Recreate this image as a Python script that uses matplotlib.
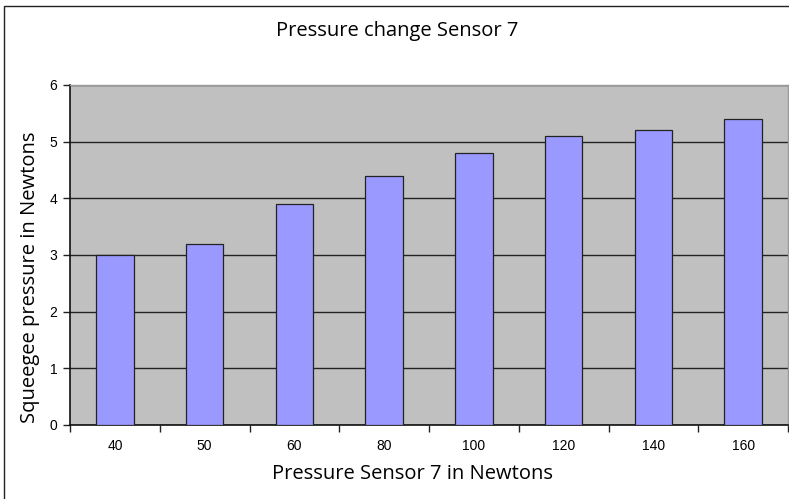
import matplotlib
matplotlib.use("Agg")
import matplotlib.pyplot as plt
from matplotlib.patches import Rectangle
import numpy as np

categories = ["40", "50", "60", "80", "100", "120", "140", "160"]
values = [3.0, 3.2, 3.9, 4.4, 4.8, 5.1, 5.2, 5.4]
y_ticks = [0, 1, 2, 3, 4, 5, 6]

W, H = 789, 499
fig = plt.figure(figsize=(W / 100, H / 100), dpi=100)
fig.patch.set_facecolor("white")

# outer chart frame (runs off the right and bottom edges)
fig.add_artist(Rectangle((4 / W, -0.05), 1.05, 1.05 - 6 / H,
                         transform=fig.transFigure, fill=False,
                         edgecolor="#222222", linewidth=1.0))

left, right, top, bottom = 70, 788, 85, 425
ax = fig.add_axes([left / W, 1 - bottom / H, (right - left) / W, (bottom - top) / H])
ax.set_facecolor("#C0C0C0")

x = np.arange(len(categories))
ax.set_axisbelow(True)
ax.yaxis.grid(True, color="#222222", linewidth=1.0)
ax.bar(x, values, width=0.42, color="#9999FF", edgecolor="#222222", linewidth=0.9, zorder=3)

ax.set_xlim(-0.5, len(categories) - 0.5)
ax.set_ylim(0, 6)
ax.set_yticks(y_ticks)
ax.set_yticklabels([str(t) for t in y_ticks], fontsize=10, family="Liberation Sans")
ax.set_xticks(x)
ax.set_xticklabels(categories, fontsize=10, family="Liberation Sans")
ax.tick_params(axis="x", length=0, pad=10)
ax.set_xticks(np.arange(len(categories) + 1) - 0.5, minor=True)
ax.tick_params(axis="x", which="minor", length=5, width=1.0, direction="out", color="#222222")
ax.tick_params(axis="y", length=5, width=1.0, direction="out", color="#222222", pad=4)

for s in ["top", "right"]:
    ax.spines[s].set_color("#999999")
    ax.spines[s].set_linewidth(1.0)
for s in ["left", "bottom"]:
    ax.spines[s].set_color("#111111")
    ax.spines[s].set_linewidth(1.2)

ax.set_xlabel("Pressure Sensor 7 in Newtons", fontsize=14.5, family="Open Sans", labelpad=8)
ax.xaxis.label.set_x((413 - left) / (right - left))
ax.set_ylabel("Squeegee pressure in Newtons", fontsize=14.5, family="Open Sans")
ax.yaxis.set_label_coords((40 - left) / (right - left), (bottom - 277) / (bottom - top))
fig.text(397 / W, 1 - 31 / H, "Pressure change Sensor 7", ha="center", va="center",
         fontsize=14.5, family="Open Sans")

fig.savefig("out.png", dpi=100)
